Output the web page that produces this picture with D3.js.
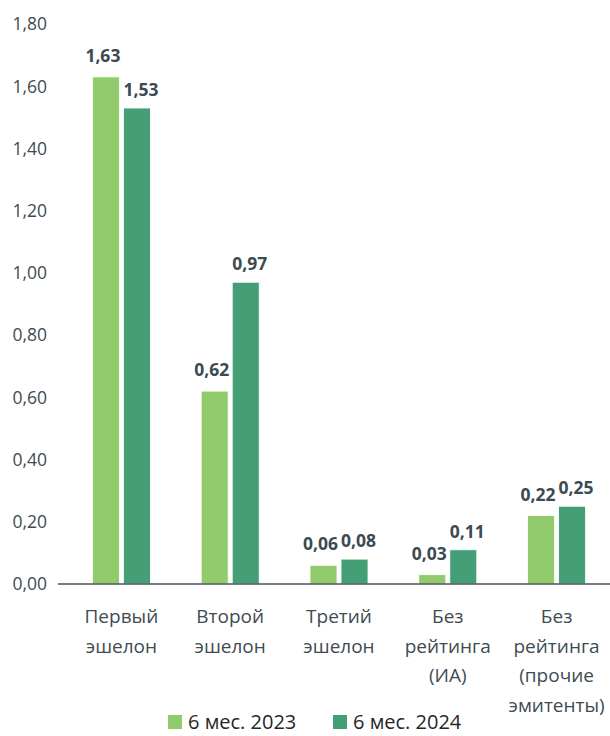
<!DOCTYPE html>
<html>
<head>
<meta charset="utf-8">
<script src="https://cdn.jsdelivr.net/npm/d3@7"></script>
<style>
  body { margin: 0; background: #fff; }
  svg { font-family: "Open Sans", "Noto Sans", sans-serif; }
</style>
</head>
<body>
<script>
var categories = [
  ["Первый", "эшелон"],
  ["Второй", "эшелон"],
  ["Третий", "эшелон"],
  ["Без", "рейтинга", "(ИА)"],
  ["Без", "рейтинга", "(прочие", "эмитенты)"]
];
var seriesNames = ["6 мес. 2023", "6 мес. 2024"];
var values2023 = [1.63, 0.62, 0.06, 0.03, 0.22];
var values2024 = [1.53, 0.97, 0.08, 0.11, 0.25];
var yTicks = [0, 0.2, 0.4, 0.6, 0.8, 1.0, 1.2, 1.4, 1.6, 1.8];
var colors = ["#92cb6b", "#449f77"];

var width = 610, height = 736;
var fmt = function(v) { return d3.format(".2f")(v).replace(".", ","); };

var svg = d3.select("body").append("svg")
  .attr("width", width)
  .attr("height", height);

var yScale = d3.scaleLinear().domain([0, 1.8]).range([584, 24]);
var xScale = d3.scaleBand()
  .domain(d3.range(categories.length))
  .range([67, 611]);
// two bars per group, 27px wide with a 4px gap
var inner = d3.scaleBand().domain([0, 1]).range([25.4, 83.4]).paddingInner(0.13);

// y tick labels
svg.append("g").selectAll("text")
  .data(yTicks).enter().append("text")
  .attr("x", 47)
  .attr("y", function(d) { return yScale(d); })
  .attr("dy", "0.36em")
  .attr("text-anchor", "end")
  .attr("font-size", 17.5)
  .attr("fill", "#404b52")
  .text(fmt);

// labels sit a little apart so neighbours don't collide
var labelGap = [15, 12];
var labelShift = [-3, 4];
var series = [values2023, values2024];
series.forEach(function(vals, s) {
  var g = svg.append("g");
  g.selectAll("rect").data(vals).enter().append("rect")
    .attr("x", function(d, i) { return xScale(i) + inner(s); })
    .attr("width", inner.bandwidth())
    .attr("y", function(d) { return yScale(d); })
    .attr("height", function(d) { return yScale(0) - yScale(d); })
    .attr("fill", colors[s])
    .attr("stroke", "#ffffff")
    .attr("stroke-width", 0.8);
  g.selectAll("text").data(vals).enter().append("text")
    .attr("x", function(d, i) { return xScale(i) + inner(s) + inner.bandwidth() / 2 + labelShift[s]; })
    .attr("y", function(d) { return yScale(d) - labelGap[s]; })
    .attr("text-anchor", "middle")
    .attr("font-size", 17.5)
    .attr("font-weight", "bold")
    .attr("fill", "#3c4a52")
    .text(fmt);
});

// x axis line
svg.append("line")
  .attr("x1", 58).attr("x2", 610)
  .attr("y1", yScale(0)).attr("y2", yScale(0))
  .attr("stroke", "#4a555c")
  .attr("stroke-width", 1.4);

// category labels
var catG = svg.append("g").selectAll("text")
  .data(categories).enter().append("text")
  .attr("text-anchor", "middle")
  .attr("font-size", 19)
  .attr("fill", "#404b52");
catG.each(function(lines, i) {
  var t = d3.select(this);
  lines.forEach(function(l, j) {
    t.append("tspan")
      .attr("x", xScale(i) + xScale.bandwidth() / 2)
      .attr("y", 623 + j * 29.5)
      .text(l);
  });
});

// legend
var legend = svg.append("g");
var legendX = [168, 333];
seriesNames.forEach(function(name, s) {
  legend.append("rect")
    .attr("x", legendX[s]).attr("y", 715)
    .attr("width", 14).attr("height", 14)
    .attr("fill", colors[s]);
  legend.append("text")
    .attr("x", legendX[s] + 20).attr("y", 729)
    .attr("font-size", 20)
    .attr("fill", "#262626")
    .text(name);
});
</script>
</body>
</html>
